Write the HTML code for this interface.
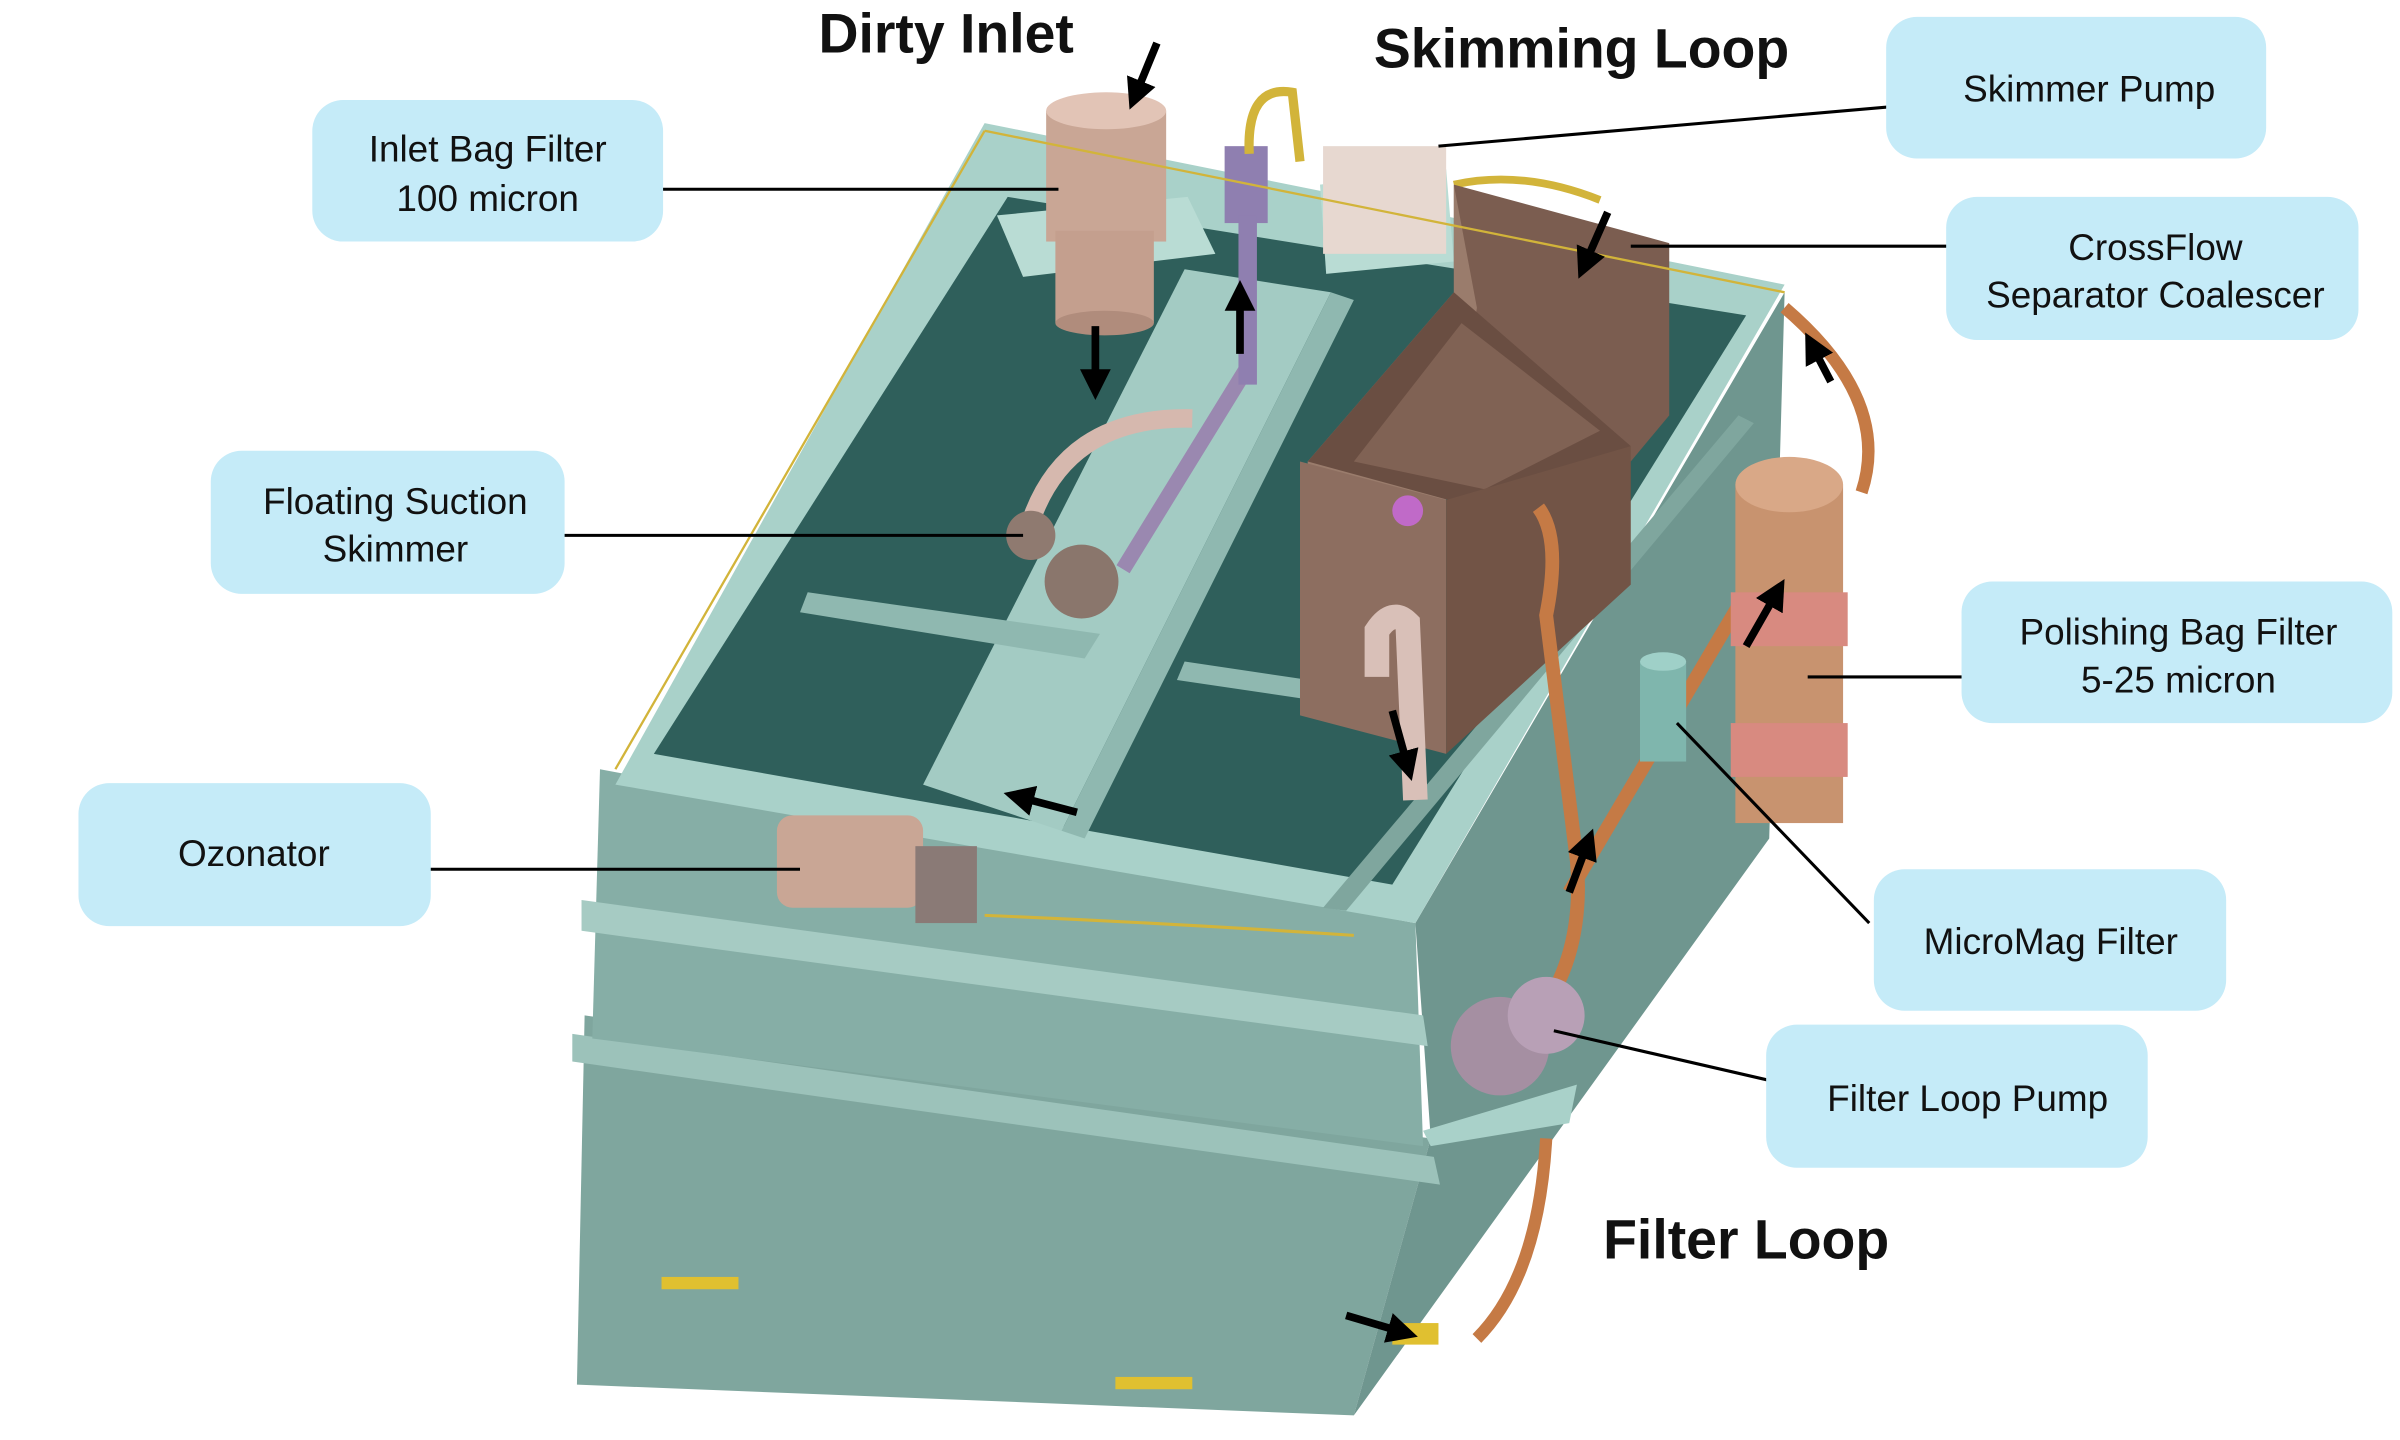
<!DOCTYPE html>
<html><head><meta charset="utf-8"><style>
html,body{margin:0;padding:0;background:#fff;width:2400px;height:1440px;overflow:hidden}
svg{display:block}
text{font-family:"Liberation Sans",Arial,sans-serif}
</style></head><body>
<svg width="2400" height="1440" viewBox="0 0 1560 936" xmlns="http://www.w3.org/2000/svg">
<defs>
<marker id="ah" markerWidth="4" markerHeight="4" refX="2" refY="2" orient="auto" markerUnits="strokeWidth"><path d="M0,0 L4,2 L0,4 z" fill="#000"/></marker>
</defs>
<!-- tank lower body -->
<polygon points="380,660 930,740 880,920 375,900" fill="#7fa69e"/>
<polygon points="920,600 1160,190 1150,545 880,920 930,740" fill="#6f968f"/>
<polygon points="372,672 932,752 936,770 372,690" fill="#9cc2ba"/>
<!-- upper body -->
<polygon points="390,500 920,600 925,745 385,675" fill="#86aea6"/>
<polygon points="378,585 925,660 928,680 378,605" fill="#a6cbc3"/>
<!-- top rim -->
<polygon points="400,510 640,80 1160,185 920,600" fill="#a9d1c9"/>
<!-- interior -->
<polygon points="425,490 655,128 1135,205 905,575" fill="#2f5f5b"/>
<!-- divider floor / walls -->
<polygon points="600,510 770,175 865,190 690,540" fill="#a3cbc3"/>
<polygon points="690,540 865,190 880,195 705,545" fill="#8fb8b0"/>
<polygon points="525,385 715,412 705,428 520,398" fill="#8fb8b0"/>
<polygon points="770,430 905,450 900,462 765,442" fill="#8fb8b0"/>
<polygon points="860,590 1130,270 1140,275 875,592" fill="#7fa69e"/>
<!-- plates -->
<polygon points="648,140 772,128 790,165 665,180" fill="#b9dcd4"/>
<polygon points="858,120 940,110 945,170 862,178" fill="#b9dcd4"/>
<!-- inlet bag filter -->
<rect x="680" y="72" width="78" height="85" fill="#c9a695"/>
<ellipse cx="719" cy="72" rx="39" ry="12" fill="#e2c4b6"/>
<rect x="686" y="150" width="64" height="60" fill="#c49f8e"/>
<ellipse cx="718" cy="210" rx="32" ry="8" fill="#b08c7c"/>
<!-- skimmer arm -->
<path d="M668,345 Q690,270 775,272" stroke="#d6b8ae" stroke-width="12" fill="none"/>
<line x1="730" y1="370" x2="810" y2="240" stroke="#9a88b0" stroke-width="10"/>
<circle cx="670" cy="348" r="16" fill="#8f7a70"/>
<circle cx="703" cy="378" r="24" fill="#8a766c"/>
<!-- skimmer pipe -->
<rect x="796" y="95" width="28" height="50" fill="#8f7fb0"/>
<rect x="805" y="140" width="12" height="110" fill="#8f7fb0"/>
<path d="M812,100 Q810,55 840,60 L845,105" stroke="#d2b43a" stroke-width="6" fill="none"/>
<!-- skimmer pump -->
<rect x="860" y="95" width="80" height="70" fill="#e7d8d0"/>
<path d="M945,120 Q990,110 1040,130" stroke="#d2b43a" stroke-width="5" fill="none"/>
<!-- crossflow coalescer -->
<polygon points="945,120 1085,158 1085,270 1060,300 945,190" fill="#7b5d50"/>
<polygon points="945,120 945,190 850,300 850,310 940,325 960,200" fill="#9a7c6c"/>
<polygon points="850,300 945,190 1060,290 960,330" fill="#6a4e42"/>
<polygon points="880,300 950,210 1040,280 965,318" fill="#806254"/>
<polygon points="845,300 940,325 940,490 845,465" fill="#8d6e60"/>
<polygon points="940,325 1060,290 1060,380 940,490" fill="#725446"/>
<path d="M895,440 L895,410 Q905,395 915,405 L920,520" stroke="#d9c0b8" stroke-width="16" fill="none"/>
<circle cx="915" cy="332" r="10" fill="#c06ac8"/>
<!-- orange pipes -->
<path d="M1000,330 Q1015,350 1005,400 L1025,560 Q1030,620 1000,660" stroke="#c57a45" stroke-width="9" fill="none"/>
<path d="M1160,200 Q1230,260 1210,320" stroke="#c57a45" stroke-width="8" fill="none"/>
<path d="M1005,740 Q1000,830 960,870" stroke="#c57a45" stroke-width="8" fill="none"/>
<path d="M1020,580 L1150,360" stroke="#c57a45" stroke-width="9" fill="none"/>
<!-- polishing filter -->
<rect x="1128" y="315" width="70" height="220" fill="#c8936f"/>
<ellipse cx="1163" cy="315" rx="35" ry="18" fill="#d9a887"/>
<rect x="1125" y="385" width="76" height="35" fill="#d88a80"/>
<rect x="1125" y="470" width="76" height="35" fill="#d88a80"/>
<!-- micromag -->
<rect x="1066" y="430" width="30" height="65" fill="#7fb6ad"/>
<ellipse cx="1081" cy="430" rx="15" ry="6" fill="#9fd0c8"/>
<!-- filter loop pump -->
<circle cx="975" cy="680" r="32" fill="#a58fa2"/>
<circle cx="1005" cy="660" r="25" fill="#b8a0b6"/>
<polygon points="925,735 1025,705 1020,730 930,745" fill="#a9d1c9"/>
<!-- ozonator -->
<rect x="505" y="530" width="95" height="60" rx="10" fill="#c9a695"/>
<rect x="595" y="550" width="40" height="50" fill="#8a7a76"/>
<path d="M400,500 L640,85 M640,85 L1160,190" stroke="#d2b43a" stroke-width="1.5" fill="none"/>
<path d="M640,595 Q760,600 880,608" stroke="#d2b43a" stroke-width="2" fill="none"/>
<!-- valves -->
<rect x="430" y="830" width="50" height="8" fill="#e0c030"/>
<rect x="725" y="895" width="50" height="8" fill="#e0c030"/>
<rect x="905" y="860" width="30" height="14" fill="#e0c030"/>
<!-- flow arrows -->
<g stroke="#000" stroke-width="5" fill="none" marker-end="url(#ah)">
<line x1="752" y1="28" x2="738" y2="62"/>
<line x1="712" y1="212" x2="712" y2="250"/>
<line x1="806" y1="230" x2="806" y2="192"/>
<line x1="1045" y1="138" x2="1030" y2="172"/>
<line x1="1190" y1="248" x2="1178" y2="225"/>
<line x1="1135" y1="420" x2="1155" y2="385"/>
<line x1="905" y1="462" x2="915" y2="498"/>
<line x1="700" y1="528" x2="662" y2="518"/>
<line x1="1020" y1="580" x2="1032" y2="548"/>
<line x1="875" y1="855" x2="912" y2="866"/>
</g>
<!-- leader lines -->
<g stroke="#000" stroke-width="2">
<line x1="405" y1="123" x2="688" y2="123"/>
<line x1="350" y1="348" x2="665" y2="348"/>
<line x1="235" y1="565" x2="520" y2="565"/>
<line x1="1245" y1="68" x2="935" y2="95"/>
<line x1="1315" y1="160" x2="1060" y2="160"/>
<line x1="1290" y1="440" x2="1175" y2="440"/>
<line x1="1215" y1="600" x2="1090" y2="470"/>
<line x1="1162" y1="705" x2="1010" y2="670"/>
</g>
<!-- label boxes -->
<g fill="#c5ebf8">
<rect x="203" y="65" width="228" height="92" rx="20"/>
<rect x="137" y="293" width="230" height="93" rx="20"/>
<rect x="51" y="509" width="229" height="93" rx="20"/>
<rect x="1226" y="11" width="247" height="92" rx="20"/>
<rect x="1265" y="128" width="268" height="93" rx="20"/>
<rect x="1275" y="378" width="280" height="92" rx="20"/>
<rect x="1218" y="565" width="229" height="92" rx="20"/>
<rect x="1148" y="666" width="248" height="93" rx="20"/>
</g>
<g font-size="24" fill="#111" text-anchor="middle">
<text x="317" y="105">Inlet Bag Filter</text><text x="317" y="137">100 micron</text>
<text x="257" y="334">Floating Suction</text><text x="257" y="365">Skimmer</text>
<text x="165" y="563">Ozonator</text>
<text x="1358" y="66">Skimmer Pump</text>
<text x="1401" y="169">CrossFlow</text><text x="1401" y="200">Separator Coalescer</text>
<text x="1416" y="419">Polishing Bag Filter</text><text x="1416" y="450">5-25 micron</text>
<text x="1333" y="620">MicroMag Filter</text>
<text x="1279" y="722">Filter Loop Pump</text>
</g>
<g font-size="36" font-weight="bold" fill="#111" text-anchor="middle">
<text x="615" y="34">Dirty Inlet</text>
<text x="1028" y="44">Skimming Loop</text>
<text x="1135" y="818">Filter Loop</text>
</g>
</svg>
</body></html>
